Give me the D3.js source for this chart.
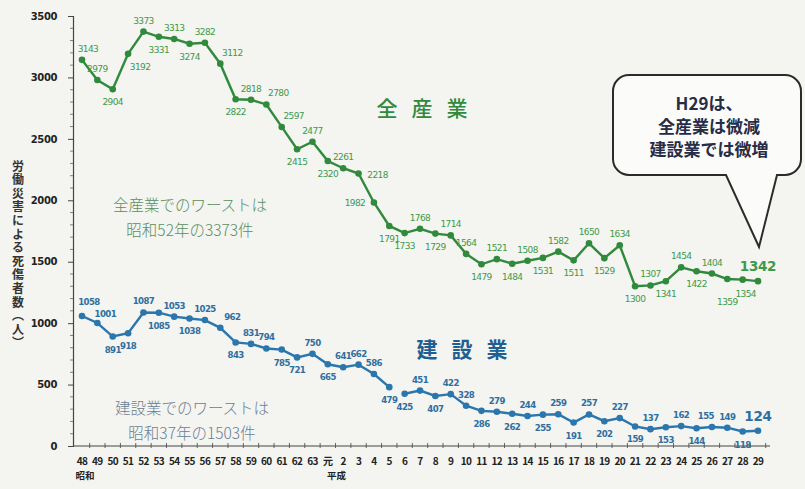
<!DOCTYPE html>
<html><head><meta charset="utf-8">
<script src="https://cdn.jsdelivr.net/npm/d3@7"></script>
<style>
html,body{margin:0;padding:0;background:#f4f4f1;}
svg{display:block;}
</style></head>
<body><svg id="c" width="805" height="489"></svg>
<script>
const years = ["48","49","50","51","52","53","54","55","56","57","58","59","60","61","62","63",
  "元","2","3","4","5","6","7","8","9","10","11","12","13","14","15","16","17","18","19","20","21","22","23","24","25","26","27","28","29"];
const allIndustry = [3143,2979,2904,3192,3373,3331,3313,3274,3282,3112,2822,2818,2780,2597,2415,2477,
  2320,2261,2218,1982,1791,1733,1768,1729,1714,1564,1479,1521,1484,1508,1531,1582,1511,1650,1529,1634,1300,1307,1341,1454,1422,1404,1359,1354,1342];
const construction = [1058,1001,891,918,1087,1085,1053,1038,1025,962,843,831,794,785,721,750,
  665,641,662,586,479,425,451,407,422,328,286,279,262,244,255,259,191,257,202,227,159,137,153,162,144,155,149,118,124];
// label placement codes: a=above, b=below, r=right, l=left, ar=above-right, br=below-right,
// ax=above nudged right, at=high above, an=near above nudged right, al=above nudged left, bb=far below, bx=below nudged right
const allPos = ["ax","a","b","br","a","b","a","b","a","ar","b","a","ar","ar","b","a",
  "b","a","r","l","b","b","a","b","a","a","b","a","b","a","b","a","b","a","b","a","b","a","b","a","b","a","bb","bx","a"];
const conPos = ["at","an","b","b","a","b","a","b","a","ar","b","a","a","b","b","a",
  "b","a","a","a","b","b","a","b","a","a","b","a","b","a","b","a","b","a","b","a","b","a","b","a","b","al","a","b","a"];
const conBreakAfter = "5"; // construction line is broken between H5 and H6
const yTicks = [0,500,1000,1500,2000,2500,3000,3500];

const svg = d3.select("#c");
const GREEN = "#2f8a3c", GREEN_T = "#3d9a48", BLUE = "#2a76ad", BLUE_T = "#2f6f9f";
const x = d3.scalePoint().domain(years).range([82, 758]);
const y = d3.scaleLinear().domain([0, 3500]).range([446, 16]);
const step = x.step();

// axes
const yAxis = d3.axisLeft(y).tickValues(yTicks).tickSize(5).tickFormat(d3.format("d"));
const gy = svg.append("g").attr("transform","translate(73,0)").call(yAxis);
gy.select(".domain").attr("stroke","#444").attr("stroke-width",1.2);
gy.selectAll(".tick line").attr("stroke","#444");
gy.selectAll(".tick text").attr("font-family","'DejaVu Sans',sans-serif").attr("font-weight","bold")
  .attr("font-size",10).attr("fill","#222").attr("dx",-8).attr("letter-spacing",-0.4);
// minor y ticks
svg.append("g").selectAll("line").data(d3.range(0,3501,100).filter(v=>v%500!==0)).join("line")
  .attr("x1",70).attr("x2",73).attr("y1",d=>y(d)).attr("y2",d=>y(d)).attr("stroke","#666").attr("stroke-width",0.8);

// x axis
svg.append("line").attr("x1",73).attr("x2",770).attr("y1",y(0)).attr("y2",y(0)).attr("stroke","#444").attr("stroke-width",1.2);
svg.append("g").selectAll("line").data(years).join("line")
  .attr("x1",d=>x(d)+step/2).attr("x2",d=>x(d)+step/2)
  .attr("y1",y(0)-3).attr("y2",y(0)+2).attr("stroke","#555").attr("stroke-width",0.9);
svg.append("g").selectAll("text").data(years).join("text")
  .attr("x",d=>x(d)).attr("y",465).attr("text-anchor","middle")
  .attr("font-family","'Noto Sans CJK JP','DejaVu Sans',sans-serif").attr("font-weight","bold")
  .attr("font-size",10).attr("letter-spacing",-0.6).attr("fill","#222").text(d=>d);
svg.append("text").attr("x",x("48")+3).attr("y",479).attr("text-anchor","middle")
  .attr("font-family","'Noto Sans CJK JP',sans-serif").attr("font-weight","bold").attr("font-size",9.5).attr("fill","#222").text("昭和");
svg.append("text").attr("x",(x("元")+x("2"))/2+1).attr("y",479).attr("text-anchor","middle")
  .attr("font-family","'Noto Sans CJK JP',sans-serif").attr("font-weight","bold").attr("font-size",9.5).attr("fill","#222").text("平成");

// y title (vertical)
const ytitle = "労働災害による死傷者数（人）";
svg.append("text").attr("x",18).attr("y",160)
  .attr("font-family","'Noto Sans CJK JP',sans-serif").attr("font-weight","bold").attr("font-size",12)
  .attr("fill","#333").style("writing-mode","vertical-rl").attr("letter-spacing",1.6).text(ytitle);

// series
function drawSeries(vals, color, tcolor, pos, breakIdx, weight, fs){
  const pts = vals.map((v,i)=>({k:years[i], v, i}));
  const line = d3.line().x(d=>x(d.k)).y(d=>y(d.v));
  const segs = breakIdx==null ? [pts] : [pts.slice(0,breakIdx+1), pts.slice(breakIdx+1)];
  const g = svg.append("g");
  segs.forEach(s=>g.append("path").attr("d",line(s)).attr("fill","none").attr("stroke",color).attr("stroke-width",2.4));
  g.selectAll("circle").data(pts).join("circle").attr("cx",d=>x(d.k)).attr("cy",d=>y(d.v)).attr("r",3.3).attr("fill",color);
  const last = pts.length-1;
  const DX = {r:19, l:-19, ar:12, br:12, ax:6, bx:3, at:7, an:8, al:-6};
  const DY = {a:-8, ar:-8, ax:-8, at:-11, an:-6, al:-8, b:16, br:16, bx:17, bb:26, r:4, l:4};
  g.selectAll("text").data(pts).join("text")
    .attr("x",d=>x(d.k)+(DX[pos[d.i]]||0))
    .attr("y",d=>y(d.v)+(d.i===last?-10:DY[pos[d.i]]))
    .attr("text-anchor","middle")
    .attr("font-family","'DejaVu Sans',sans-serif")
    .attr("font-size",d=>d.i===last?13.5:fs)
    .attr("font-weight",d=>d.i===last?"bold":weight)
    .attr("letter-spacing",d=>d.i===last?-0.3:-0.6)
    .attr("fill",tcolor).text(d=>d.v);
}
drawSeries(allIndustry, GREEN, GREEN_T, allPos, null, "normal", 9);
drawSeries(construction, BLUE, BLUE_T, conPos, years.indexOf(conBreakAfter), "bold", 8.6);

// series titles
svg.append("text").attr("x",429).attr("y",116).attr("text-anchor","middle")
  .attr("font-family","'Noto Sans CJK JP',sans-serif").attr("font-size",21).attr("font-weight","500")
  .attr("letter-spacing",14).attr("fill",GREEN).text("全産業");
svg.append("text").attr("x",469).attr("y",357).attr("text-anchor","middle")
  .attr("font-family","'Noto Sans CJK JP',sans-serif").attr("font-size",21).attr("font-weight","bold")
  .attr("letter-spacing",14).attr("fill","#1f5f92").text("建設業");

// notes
function note(lines, cx, y0, color){
  lines.forEach((t,i)=>svg.append("text").attr("x",cx).attr("y",y0+i*25).attr("text-anchor","middle")
    .attr("font-family","'Noto Sans CJK JP',sans-serif").attr("font-size",15.5).attr("font-weight","300")
    .attr("fill",color).text(t));
}
note(["全産業でのワーストは","昭和52年の3373件"], 190, 211, "#5a8f5e");
note(["建設業でのワーストは","昭和37年の1503件"], 192, 414, "#6a7f93");

// callout
const cb = {x0:613, x1:801, y0:75, y1:175, r:16};
const tail = {a:726, b:777, tx:759, ty:247};
const p = d3.path();
p.moveTo(cb.x0+cb.r, cb.y0);
p.lineTo(cb.x1-cb.r, cb.y0); p.arcTo(cb.x1, cb.y0, cb.x1, cb.y0+cb.r, cb.r);
p.lineTo(cb.x1, cb.y1-cb.r); p.arcTo(cb.x1, cb.y1, cb.x1-cb.r, cb.y1, cb.r);
p.lineTo(tail.b, cb.y1); p.lineTo(tail.tx, tail.ty); p.lineTo(tail.a, cb.y1);
p.lineTo(cb.x0+cb.r, cb.y1); p.arcTo(cb.x0, cb.y1, cb.x0, cb.y1-cb.r, cb.r);
p.lineTo(cb.x0, cb.y0+cb.r); p.arcTo(cb.x0, cb.y0, cb.x0+cb.r, cb.y0, cb.r);
p.closePath();
svg.append("path").attr("d",p.toString()).attr("fill","#fbfbf9").attr("stroke","#2b2b2b").attr("stroke-width",2);
["H29は、","全産業は微減","建設業では微増"].forEach((t,i)=>
  svg.append("text").attr("x",709).attr("y",110+i*23).attr("text-anchor","middle")
    .attr("font-family","'Noto Sans CJK JP',sans-serif").attr("font-size",17).attr("font-weight","bold")
    .attr("fill","#272c47").text(t));
</script></body></html>
